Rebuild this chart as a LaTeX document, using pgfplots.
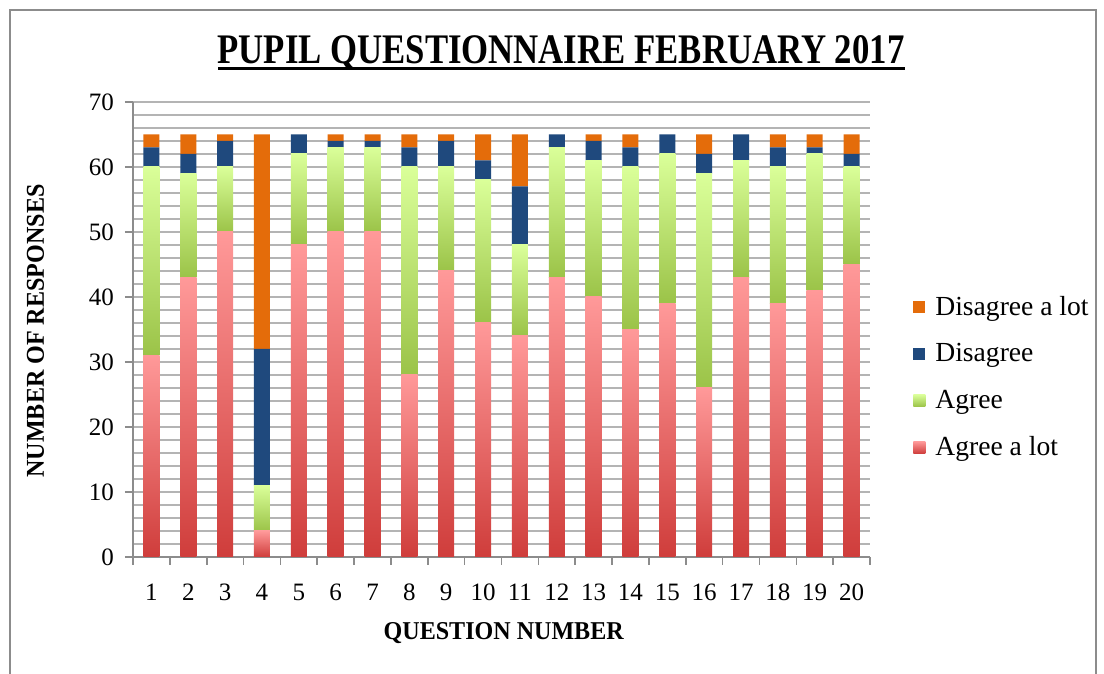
\documentclass[border=0pt]{standalone}
\usepackage{fontspec}
\setmainfont{Liberation Serif}
\usepackage{graphicx}
\usepackage{pgfplots}
\pgfplotsset{compat=1.18}
\definecolor{dalot}{HTML}{E46C0A}
\definecolor{dis}{HTML}{1F497D}
\definecolor{agtop}{HTML}{DAFF99}
\definecolor{agbot}{HTML}{9BC348}
\definecolor{altop}{HTML}{FF9999}
\definecolor{albot}{HTML}{CF3D3B}
\definecolor{gridc}{HTML}{B4B4B4}
\definecolor{axc}{HTML}{8C8C8C}
\pgfplotsset{
  shadedbar/.style n args={2}{
    draw=none, fill=none,
    scatter, mark=*, mark size=0pt,
    visualization depends on={rawy \as \segh},
    scatter/@pre marker code/.code={%
      \path[bottom color=#1, top color=#2] (-4pt,0pt) rectangle (4pt,{-\segh*3.25pt});%
      \begin{scope}[opacity=0]},
    scatter/@post marker code/.code={\end{scope}},
    legend image code/.code={\path[bottom color=#1, top color=#2] (0pt,-3pt) rectangle (6pt,3pt); \path (11pt,0pt);},
  },
}
\begin{document}
\begin{tikzpicture}[x=1pt,y=1pt]
\useasboundingbox (0,0) rectangle (552,337);
\draw[axc, line width=0.8pt] (5,0) -- (5,332) -- (548,332) -- (548,0);
\begin{axis}[
  at={(66.5pt,58.5pt)}, anchor=south west,
  scale only axis, width=368.5pt, height=227.5pt,
  xmin=0.5, xmax=20.5, ymin=0, ymax=70,
  enlargelimits=false,
  ybar stacked, bar width=8pt,
  xtick={1,...,20},
  minor xtick={0.5,1.5,...,20.5},
  ytick={0,10,...,70},
  minor ytick={2,4,6,8,12,14,16,18,22,24,26,28,32,34,36,38,42,44,46,48,52,54,56,58,62,64,66,68},
  ymajorgrids, yminorgrids,
  major grid style={gridc, line width=0.8pt},
  minor grid style={gridc, line width=0.8pt},
  axis x line=bottom, axis y line=left,
  axis line style={-, draw=axc, line width=0.8pt},
  tick align=outside,
  major tick length=4pt, minor tick length=4pt,
  tick style={axc, line width=0.8pt},
  major x tick style={draw=none},
  minor y tick style={draw=none},
  ticklabel style={font=\fontsize{12.5}{14}\selectfont},
  /pgf/number format/assume math mode=true,
  xticklabel style={yshift=-6pt},
  yticklabel style={xshift=-2pt},
  every axis title shift=0pt,
  title={\resizebox{343.5pt}{14pt}{\bfseries PUPIL QUESTIONNAIRE FEBRUARY 2017}},
  title style={at={(axis description cs:0.5807,1.0857)}, anchor=base, inner sep=0pt},
  xlabel={\resizebox{120pt}{8.5pt}{\bfseries QUESTION NUMBER}},
  xlabel style={at={(axis description cs:0.503,-0.1824)}, anchor=base, inner sep=0pt},
  ylabel={\resizebox{146.5pt}{8.5pt}{\bfseries NUMBER OF RESPONSES}},
  ylabel style={at={(axis description cs:-0.1208,0.4967)}, anchor=base, inner sep=0pt},
  legend style={at={(axis description cs:1.0583,0.3946)}, anchor=west, draw=none, fill=none,
    font=\fontsize{13.8}{16}\selectfont, row sep=12.6pt, inner sep=0pt, nodes={inner sep=0pt}},
  legend cell align=left,
  reverse legend,
  legend image code/.code={\fill[#1] (0pt,-3pt) rectangle (6pt,3pt); \path (11pt,0pt);},
]
\addplot[shadedbar={albot}{altop}] coordinates {
(1,31) (2,43) (3,50) (4,4) (5,48) (6,50) (7,50) (8,28) (9,44) (10,36)
(11,34) (12,43) (13,40) (14,35) (15,39) (16,26) (17,43) (18,39) (19,41) (20,45)};
\addlegendentry{Agree a lot}
\addplot[shadedbar={agbot}{agtop}] coordinates {
(1,29) (2,16) (3,10) (4,7) (5,14) (6,13) (7,13) (8,32) (9,16) (10,22)
(11,14) (12,20) (13,21) (14,25) (15,23) (16,33) (17,18) (18,21) (19,21) (20,15)};
\addlegendentry{Agree}
\addplot[draw=none, fill=dis] coordinates {
(1,3) (2,3) (3,4) (4,21) (5,3) (6,1) (7,1) (8,3) (9,4) (10,3)
(11,9) (12,2) (13,3) (14,3) (15,3) (16,3) (17,4) (18,3) (19,1) (20,2)};
\addlegendentry{Disagree}
\addplot[draw=none, fill=dalot] coordinates {
(1,2) (2,3) (3,1) (4,33) (5,0) (6,1) (7,1) (8,2) (9,1) (10,4)
(11,8) (12,0) (13,1) (14,2) (15,0) (16,3) (17,0) (18,2) (19,2) (20,3)};
\addlegendentry{Disagree a lot}
\end{axis}
\draw[line width=1.5pt] (109,302.5) -- (452.5,302.5);
\end{tikzpicture}
\end{document}
